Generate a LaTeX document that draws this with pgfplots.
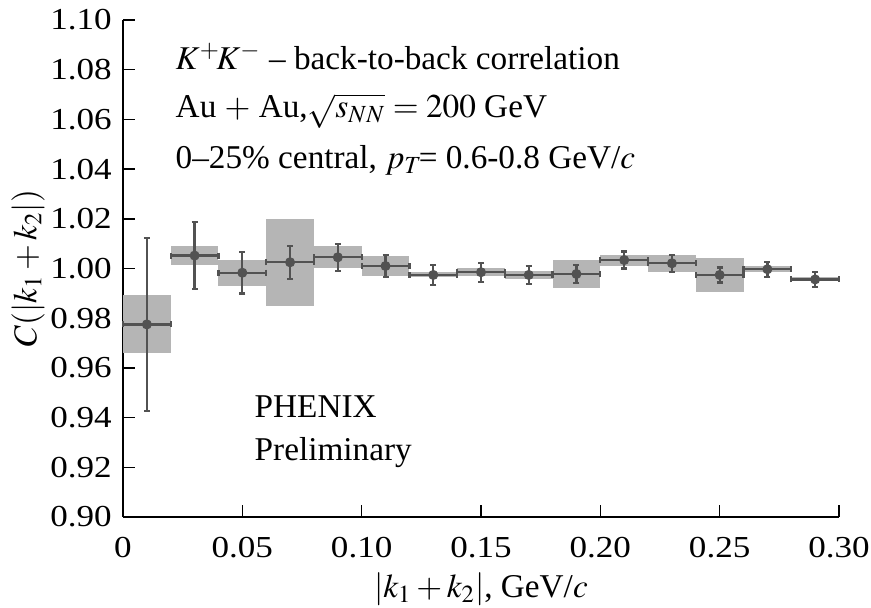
\documentclass[border=0pt]{standalone}
\usepackage{mathptmx}
\usepackage[no-math]{fontspec}
\setmainfont{Liberation Serif}
\newfontfamily\tickfont[FakeStretch=1.15]{Liberation Serif}
\usepackage{pgfplots}
\usepackage{pgfplotstable}
\pgfplotsset{compat=1.18}
\definecolor{boxgray}{RGB}{181,181,181}
\definecolor{ptgray}{RGB}{82,82,82}
\pgfplotstableread{
x     y      ex    ey
0.01  0.9775 0.01  0.0347
0.03  1.0052 0.01  0.0136
0.05  0.9983 0.01  0.0084
0.07  1.0025 0.01  0.0066
0.09  1.0045 0.01  0.0055
0.11  1.0010 0.01  0.0045
0.13  0.9974 0.01  0.0039
0.15  0.9985 0.01  0.0038
0.17  0.9974 0.01  0.0035
0.19  0.9978 0.01  0.0036
0.21  1.0034 0.01  0.0034
0.23  1.0021 0.01  0.0034
0.25  0.9974 0.01  0.0030
0.27  0.9997 0.01  0.0030
0.29  0.9956 0.01  0.0030
}\datatable
\begin{document}
\begin{tikzpicture}[font=\fontsize{13.3pt}{15pt}\selectfont]
\useasboundingbox (0,0) rectangle (348.4pt,243.2pt);
\begin{axis}[
  at={(49.2pt,36.4pt)}, anchor=south west,
  scale only axis, width=286.4pt, height=198.8pt,
  xmin=0, xmax=0.30, ymin=0.90, ymax=1.10,
  axis x line*=bottom, axis y line*=left,
  axis line style={line width=0.6pt},
  tick style={line width=0.6pt, black},
  major tick length=4.8pt,
  tick align=inside,
  xtick={0,0.05,0.10,0.15,0.20,0.25,0.30},
  xticklabels={0,0.05,0.10,0.15,0.20,0.25,0.30},
  ytick={0.90,0.92,0.94,0.96,0.98,1.00,1.02,1.04,1.06,1.08,1.10},
  yticklabels={0.90,0.92,0.94,0.96,0.98,1.00,1.02,1.04,1.06,1.08,1.10},
  tick label style={font=\tickfont\fontsize{12.2pt}{14pt}\selectfont},
  xticklabel style={yshift=-4.5pt},
  yticklabel style={xshift=-1pt},
  xlabel={$|k_1 + k_2|$, GeV/$c$},
  ylabel={$C(|k_1 + k_2|)$},
  xlabel style={at={(axis description cs:0.5,-0.145)}, anchor=center},
  ylabel style={at={(axis description cs:-0.1327,0.5)}, anchor=center},
  clip=false,
]
% systematic boxes
\addplot[fill=boxgray, draw=none] coordinates {(0.00,0.9658) (0.02,0.9658) (0.02,0.9892) (0.00,0.9892)} -- cycle;
\addplot[fill=boxgray, draw=none] coordinates {(0.02,1.0015) (0.04,1.0015) (0.04,1.0089) (0.02,1.0089)} -- cycle;
\addplot[fill=boxgray, draw=none] coordinates {(0.04,0.9931) (0.06,0.9931) (0.06,1.0035) (0.04,1.0035)} -- cycle;
\addplot[fill=boxgray, draw=none] coordinates {(0.06,0.9850) (0.08,0.9850) (0.08,1.0200) (0.06,1.0200)} -- cycle;
\addplot[fill=boxgray, draw=none] coordinates {(0.08,1.0001) (0.10,1.0001) (0.10,1.0089) (0.08,1.0089)} -- cycle;
\addplot[fill=boxgray, draw=none] coordinates {(0.10,0.9970) (0.12,0.9970) (0.12,1.0050) (0.10,1.0050)} -- cycle;
\addplot[fill=boxgray, draw=none] coordinates {(0.12,0.9964) (0.14,0.9964) (0.14,0.9984) (0.12,0.9984)} -- cycle;
\addplot[fill=boxgray, draw=none] coordinates {(0.14,0.9969) (0.16,0.9969) (0.16,1.0001) (0.14,1.0001)} -- cycle;
\addplot[fill=boxgray, draw=none] coordinates {(0.16,0.9959) (0.18,0.9959) (0.18,0.9989) (0.16,0.9989)} -- cycle;
\addplot[fill=boxgray, draw=none] coordinates {(0.18,0.9920) (0.20,0.9920) (0.20,1.0036) (0.18,1.0036)} -- cycle;
\addplot[fill=boxgray, draw=none] coordinates {(0.20,1.0012) (0.22,1.0012) (0.22,1.0056) (0.20,1.0056)} -- cycle;
\addplot[fill=boxgray, draw=none] coordinates {(0.22,0.9986) (0.24,0.9986) (0.24,1.0056) (0.22,1.0056)} -- cycle;
\addplot[fill=boxgray, draw=none] coordinates {(0.24,0.9904) (0.26,0.9904) (0.26,1.0044) (0.24,1.0044)} -- cycle;
\addplot[fill=boxgray, draw=none] coordinates {(0.26,0.9984) (0.28,0.9984) (0.28,1.0010) (0.26,1.0010)} -- cycle;
\addplot[fill=boxgray, draw=none] coordinates {(0.28,0.9948) (0.30,0.9948) (0.30,0.9964) (0.28,0.9964)} -- cycle;
% points with statistical errors
\addplot[only marks, mark=*, mark size=1.8pt, color=ptgray,
  error bars/.cd, x dir=both, x explicit, y dir=both, y explicit,
  error bar style={line width=0.9pt, ptgray},
  error mark=-,
  error mark options={rotate=90, mark size=1.2pt, line width=0.9pt, ptgray}]
  table[x=x, y=y, x error=ex, y error=ey] {\datatable};
% annotations
\node[anchor=base west] at (axis cs:0.0184,1.0799) {$K^{+}\!K^{-}$ -- back-to-back correlation};
\node[anchor=base west] at (axis cs:0.0184,1.0606) {Au $+$ Au,$\sqrt{s_{NN}} = 200$ GeV};
\node[anchor=base west] at (axis cs:0.0184,1.0404) {0--25\% central, $p_T\!$= 0.6-0.8 GeV/$c$};
\node[anchor=base west] at (axis cs:0.0515,0.9402) {PHENIX};
\node[anchor=base west] at (axis cs:0.0515,0.9229) {Preliminary};
\end{axis}
\end{tikzpicture}
\end{document}
